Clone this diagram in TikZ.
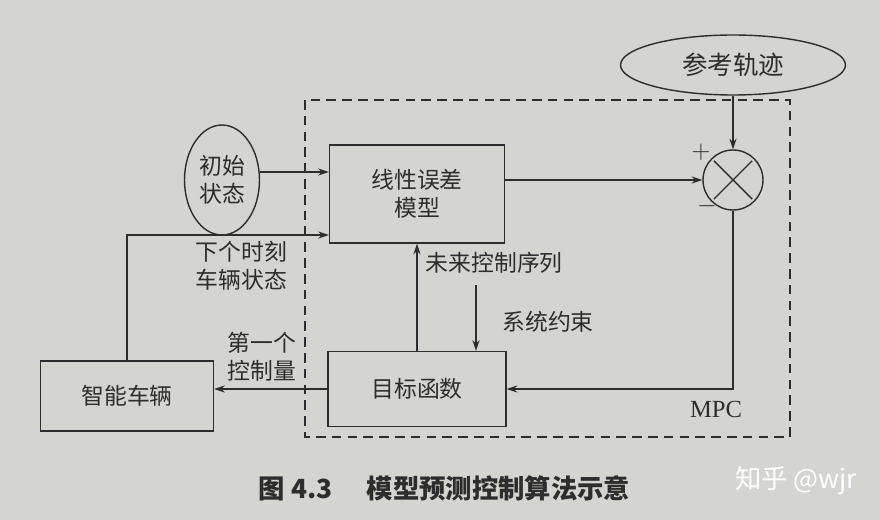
\documentclass[tikz,border=0pt]{standalone}
\usepackage{fontspec}
\setmainfont{Liberation Serif}
\newfontfamily\cjk{Noto Sans CJK SC}
\usepackage{tikz}
\usetikzlibrary{positioning}
\usetikzlibrary{shapes,decorations,arrows,calc,arrows.meta}
\definecolor{paper}{RGB}{212,212,208}
\definecolor{ink}{RGB}{45,45,45}
\tikzset{
  -,semithick,
  box/.style ={rectangle, draw=ink, text=ink, align=center, inner sep=0pt,
   font=\cjk\fontsize{13}{16}\selectfont},
  oval/.style = {ellipse, draw=ink, text=ink, align=center, inner sep=0pt,
   font=\cjk\fontsize{13}{16}\selectfont},
  lbl/.style = {text=ink, align=left, inner sep=0pt,
   font=\cjk\fontsize{13}{16}\selectfont},
}

\begin{document}
\begin{tikzpicture}[x=0.02cm,y=-0.02cm,>={Stealth[length=6pt,width=4pt]},
  line width=0.8pt,draw=ink]
\fill[paper] (0,0) rectangle (880,520);
% MPC frame
\draw[ink,dash pattern=on 5.5pt off 3.5pt] (305,100) rectangle (790,437);
\node[text=ink,font=\fontsize{14}{16}\selectfont] (mpc) at (716,409) {MPC};
% nodes
\node at(733,65) (ref) [oval, minimum width=4.5cm, minimum height=1.2cm,
  font=\cjk\fontsize{14.5}{17}\selectfont] {参考轨迹};
\node at(733,180) (sum) [circle, draw=ink, minimum size=1.2cm, inner sep=0pt] {};
\draw[ink,shorten <=2pt,shorten >=2pt] (sum.45) -- (sum.225);
\draw[ink,shorten <=2pt,shorten >=2pt] (sum.135) -- (sum.315);
\node at(701,152) (plus) [lbl, font=\fontsize{14}{16}\selectfont] {$+$};
\node at(707,206) (minus) [lbl, font=\fontsize{14}{16}\selectfont] {$-$};
\node at(222,180) (init) [oval, minimum width=1.5cm, minimum height=2.2cm] {初始\\状态};
\node at(417,194) (model) [box, minimum width=3.5cm, minimum height=1.96cm] {线性误差\\模型};
\node at(417,389) (cost) [box, minimum width=3.56cm, minimum height=1.5cm] {目标函数};
\node at(127,396) (car) [box, minimum width=3.46cm, minimum height=1.4cm] {智能车辆};
\coordinate (fb) at (0,235);
\coordinate (cons) at (476,285);
% labels
\node at(288,240) (nextlbl) [lbl, anchor=north east] {下个时刻\\车辆状态};
\node at(425,263) (futlbl) [lbl, anchor=west] {未来控制序列};
\node at(548,322) (conslbl) [lbl] {系统约束};
\node at(262,357) (firstlbl) [lbl, align=center] {第一个\\控制量};
% connectors
\draw[->,ink] (init.east |- 0,172) -- (model.west |- 0,172);
\draw[->,ink] (car.north) |- (model.west |- fb);
\draw[->,ink] (model.east |- sum.west) -- (sum.west);
\draw[->,ink] (ref.south) -- (sum.north);
\draw[->,ink] (sum.south) |- (cost.east);
\draw[->,ink] (cost) -- (model);
\draw[->,ink] (cons) -- (cons |- cost.north);
\draw[->,ink] (cost.west) -- (car.east |- cost.west);
% caption
\node at(258,488) (cap) [anchor=west, text=ink, inner sep=0pt,
  font=\cjk\bfseries\fontsize{15}{18}\selectfont] {图 4.3\hspace{1.3em}模型预测控制算法示意};
\node at(796,481) (mark) [text=white, inner sep=0pt,
  font=\cjk\fontsize{15}{18}\selectfont] {知乎 @wjr};
\end{tikzpicture}
\end{document}
